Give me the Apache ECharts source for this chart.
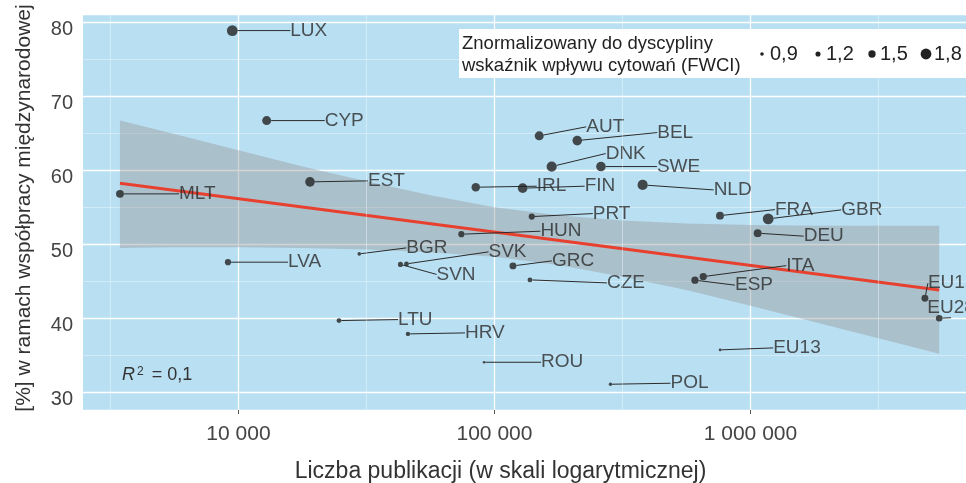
<!DOCTYPE html>
<html>
<head>
<meta charset="utf-8">
<script src="https://cdn.jsdelivr.net/npm/echarts@6/dist/echarts.min.js"></script>
<style>
  html, body { margin: 0; padding: 0; background: #fff; }
  #main { width: 966px; height: 483px; }
</style>
</head>
<body>
<div id="main"></div>
<script>
// data
const countries = ["LUX", "CYP", "MLT", "EST", "LVA", "LTU", "HRV", "ROU", "POL", "EU13",
  "BGR", "SVK", "SVN", "HUN", "PRT", "GRC", "CZE", "FRA", "GBR", "DEU",
  "ITA", "ESP", "EU15", "EU28", "AUT", "BEL", "DNK", "SWE", "IRL", "FIN", "NLD"];
const publications = [9460, 12890, 3444, 19030, 9100, 24700, 45930, 91080, 283900, 761500,
  29640, 45330, 42940, 74260, 139900, 118100, 137600, 760200, 1173000, 1067000,
  654000, 607000, 4803000, 5463000, 149600, 210600, 167300, 260600, 84530, 128900, 379200];
const intlShare = [78.86, 66.7, 56.8, 58.42, 47.57, 39.68, 37.88, 34.05, 31.08, 35.72,
  48.69, 47.34, 47.27, 51.35, 53.73, 47.07, 45.18, 53.86, 53.42, 51.49,
  45.62, 45.14, 42.7, 40.0, 64.64, 64.0, 60.49, 60.49, 57.7, 57.57, 58.01];
const fwci = [1.8, 1.65, 1.55, 1.7, 1.35, 1.15, 1.05, 0.7, 0.85, 0.75,
  0.9, 1.15, 1.2, 1.35, 1.35, 1.45, 1.15, 1.55, 1.8, 1.55,
  1.5, 1.5, 1.45, 1.4, 1.65, 1.7, 1.75, 1.7, 1.6, 1.7, 1.75];

// regression line and its confidence band
const fitX = [3444, 5463000];
const fitY = [58.24, 43.8];
const bandX = [3444, 5623, 10000, 17783, 31623, 56234, 100000, 177828, 316228, 562341, 1000000, 1778279, 3162278, 5463000];
const bandUpper = [66.7, 64.9, 62.7, 60.5, 58.5, 56.6, 55.0, 53.9, 53.2, 52.8, 52.6, 52.5, 52.5, 52.5];
const bandLower = [49.5, 49.6, 49.6, 49.5, 49.3, 48.9, 48.3, 47.2, 45.6, 43.8, 41.7, 39.5, 37.3, 35.2];

// ticks and legend
const xTicks = [10000, 100000, 1000000];
const xMinor = [3162, 31623, 316228, 3162278];
const yTicks = [30, 40, 50, 60, 70, 80];
const sizeBreaks = [0.9, 1.2, 1.5, 1.8];
const sizeLabels = ["0,9", "1,2", "1,5", "1,8"];
const r2Text = "0,1";

// symbol diameter for each legend break
const sizeRange = [3.6, 5.1, 7.3, 10.8];
function sizeFor(f) {
  let i = 0;
  while (i < sizeBreaks.length - 2 && f > sizeBreaks[i + 1]) i++;
  const t = (f - sizeBreaks[i]) / (sizeBreaks[i + 1] - sizeBreaks[i]);
  return Math.max(1.8, sizeRange[i] + t * (sizeRange[i + 1] - sizeRange[i]));
}

// where the text label sits relative to its point (px)
const labelOffset = {
  LUX: [58, 0], CYP: [58, 0], MLT: [59, 0], EST: [58, -1], LVA: [60, 0],
  LTU: [59, -1], HRV: [57, -1], ROU: [57, 0], POL: [60, -1], EU13: [53, -2],
  BGR: [47, -6], SVK: [82, -12], SVN: [36, 10], HUN: [79, -3], PRT: [61, -3],
  GRC: [39, -5], CZE: [77, 3], FRA: [55, -6], GBR: [73, -9], DEU: [46, 3],
  ITA: [83, -11], ESP: [40, 5], EU15: [3, -15], EU28: [-12, -10],
  AUT: [47, -9], BEL: [80, -8], DNK: [54, -13], SWE: [56, 0],
  IRL: [61, -1], FIN: [62, -2], NLD: [71, 5]
};

const FONT = "'Liberation Sans', Arial, sans-serif";
const DOT = "#222";

function fmtThousands(v) {
  return String(Math.round(v)).replace(/\B(?=(\d{3})+(?!\d))/g, " ");
}

let chart = echarts.init(document.getElementById("main"));

let points = publications.map(function (p, i) {
  return { name: countries[i], value: [p, intlShare[i]], symbolSize: sizeFor(fwci[i]) };
});

// legend: white box, title, sized dots
let legendX = [762, 818, 872, 926];
let legendGraphics = [
  { type: "rect", left: 459, top: 29, shape: { width: 520, height: 49 }, style: { fill: "#fff" }, z: 10 },
  { type: "text", left: 462, top: 33, z: 11,
    style: { text: "Znormalizowany do dyscypliny\nwskaźnik wpływu cytowań (FWCI)", fill: "#222",
      font: "18.5px " + FONT, lineHeight: 22 } }
];
sizeBreaks.forEach(function (b, i) {
  let r = sizeFor(b) / 2;
  legendGraphics.push({ type: "circle", x: legendX[i], y: 54, shape: { r: r }, style: { fill: DOT }, z: 11 });
  legendGraphics.push({ type: "text", x: legendX[i] + 8, y: 54, z: 11,
    style: { text: sizeLabels[i], fill: "#222", font: "20px " + FONT, verticalAlign: "middle" } });
});

let option = {
  animation: false,
  textStyle: { fontFamily: FONT },
  grid: {
    left: 83, top: 14, right: 0, bottom: 73,
    outerBoundsMode: "none",
    show: true, backgroundColor: "#b9dff2", borderWidth: 0
  },
  xAxis: {
    type: "log",
    logBase: 10,
    min: 2470,
    max: 6950000,
    name: "Liczba publikacji (w skali logarytmicznej)",
    nameLocation: "middle",
    nameGap: 50,
    nameTextStyle: { fontSize: 23, color: "#333", padding: [0, 48, 0, 0] },
    axisLine: { show: false },
    axisTick: { show: true, customValues: xTicks, length: 4, lineStyle: { color: "#555" } },
    axisLabel: {
      customValues: xTicks, fontSize: 21, color: "#444", margin: 14,
      formatter: function (v) { return fmtThousands(v); }
    },
    splitLine: { show: true, lineStyle: { color: "#fff", width: 1.3 } }
  },
  yAxis: {
    type: "value",
    min: 27.6,
    max: 81.1,
    name: "[%] w ramach współpracy międzynarodowej",
    nameLocation: "middle",
    nameGap: 48,
    nameTextStyle: { fontSize: 21, color: "#333", padding: [0, 0, 0, 8] },
    axisLine: { show: false },
    axisTick: { show: false },
    axisLabel: { customValues: yTicks, fontSize: 20, color: "#444", margin: 10,
      verticalAlign: "top", lineHeight: 14 },
    splitLine: { show: true, lineStyle: { color: "#fff", width: 1.3 } },
    minorTick: { show: false, splitNumber: 2 },
    minorSplitLine: { show: true, lineStyle: { color: "rgba(255,255,255,0.55)", width: 0.7 } }
  },
  graphic: legendGraphics.concat([
    { type: "text", left: 122, top: 366, z: 5,
      style: {
        text: "{i|R}{s|2}{t| = " + r2Text + "}",
        rich: {
          i: { fontSize: 18, fontStyle: "italic", fill: "#333", fontFamily: FONT },
          s: { fontSize: 12, fill: "#333", fontFamily: FONT, verticalAlign: "top", padding: [0, 3, 0, 2] },
          t: { fontSize: 18, fill: "#333", fontFamily: FONT }
        }
      } }
  ]),
  series: [
    {
      // minor vertical grid (half decades)
      type: "line",
      data: [],
      z: 1,
      silent: true,
      markLine: {
        silent: true,
        symbol: "none",
        label: { show: false },
        lineStyle: { color: "rgba(255,255,255,0.55)", width: 0.7, type: "solid" },
        data: xMinor.map(function (v) { return { xAxis: v }; })
      }
    },
    {
      type: "custom",
      z: 2,
      silent: true,
      data: [[bandX[0], bandUpper[0]]],
      renderItem: function (params, api) {
        let pts = [];
        for (let i = 0; i < bandX.length; i++) pts.push(api.coord([bandX[i], bandUpper[i]]));
        for (let i = bandX.length - 1; i >= 0; i--) pts.push(api.coord([bandX[i], bandLower[i]]));
        return { type: "polygon", shape: { points: pts }, style: { fill: "rgba(150,150,150,0.42)" } };
      }
    },
    {
      type: "line",
      z: 3,
      silent: true,
      showSymbol: false,
      data: fitX.map(function (x, i) { return [x, fitY[i]]; }),
      lineStyle: { color: "#e8402e", width: 3 }
    },
    {
      type: "scatter",
      z: 4,
      data: points,
      itemStyle: { color: DOT },
      label: {
        show: true,
        formatter: "{b}",
        position: "right",
        fontSize: 19,
        color: "#2b2b2b"
      },
      labelLine: { show: true, length2: 0, lineStyle: { color: "#2b2b2b", width: 1 } },
      labelLayout: function (params) {
        let o = labelOffset[countries[params.dataIndex]];
        return {
          x: params.rect.x + params.rect.width / 2 + o[0],
          y: params.rect.y + params.rect.height / 2 + o[1],
          align: "left",
          verticalAlign: "middle"
        };
      }
    }
  ]
};
chart.setOption(option);
</script>
</body>
</html>
